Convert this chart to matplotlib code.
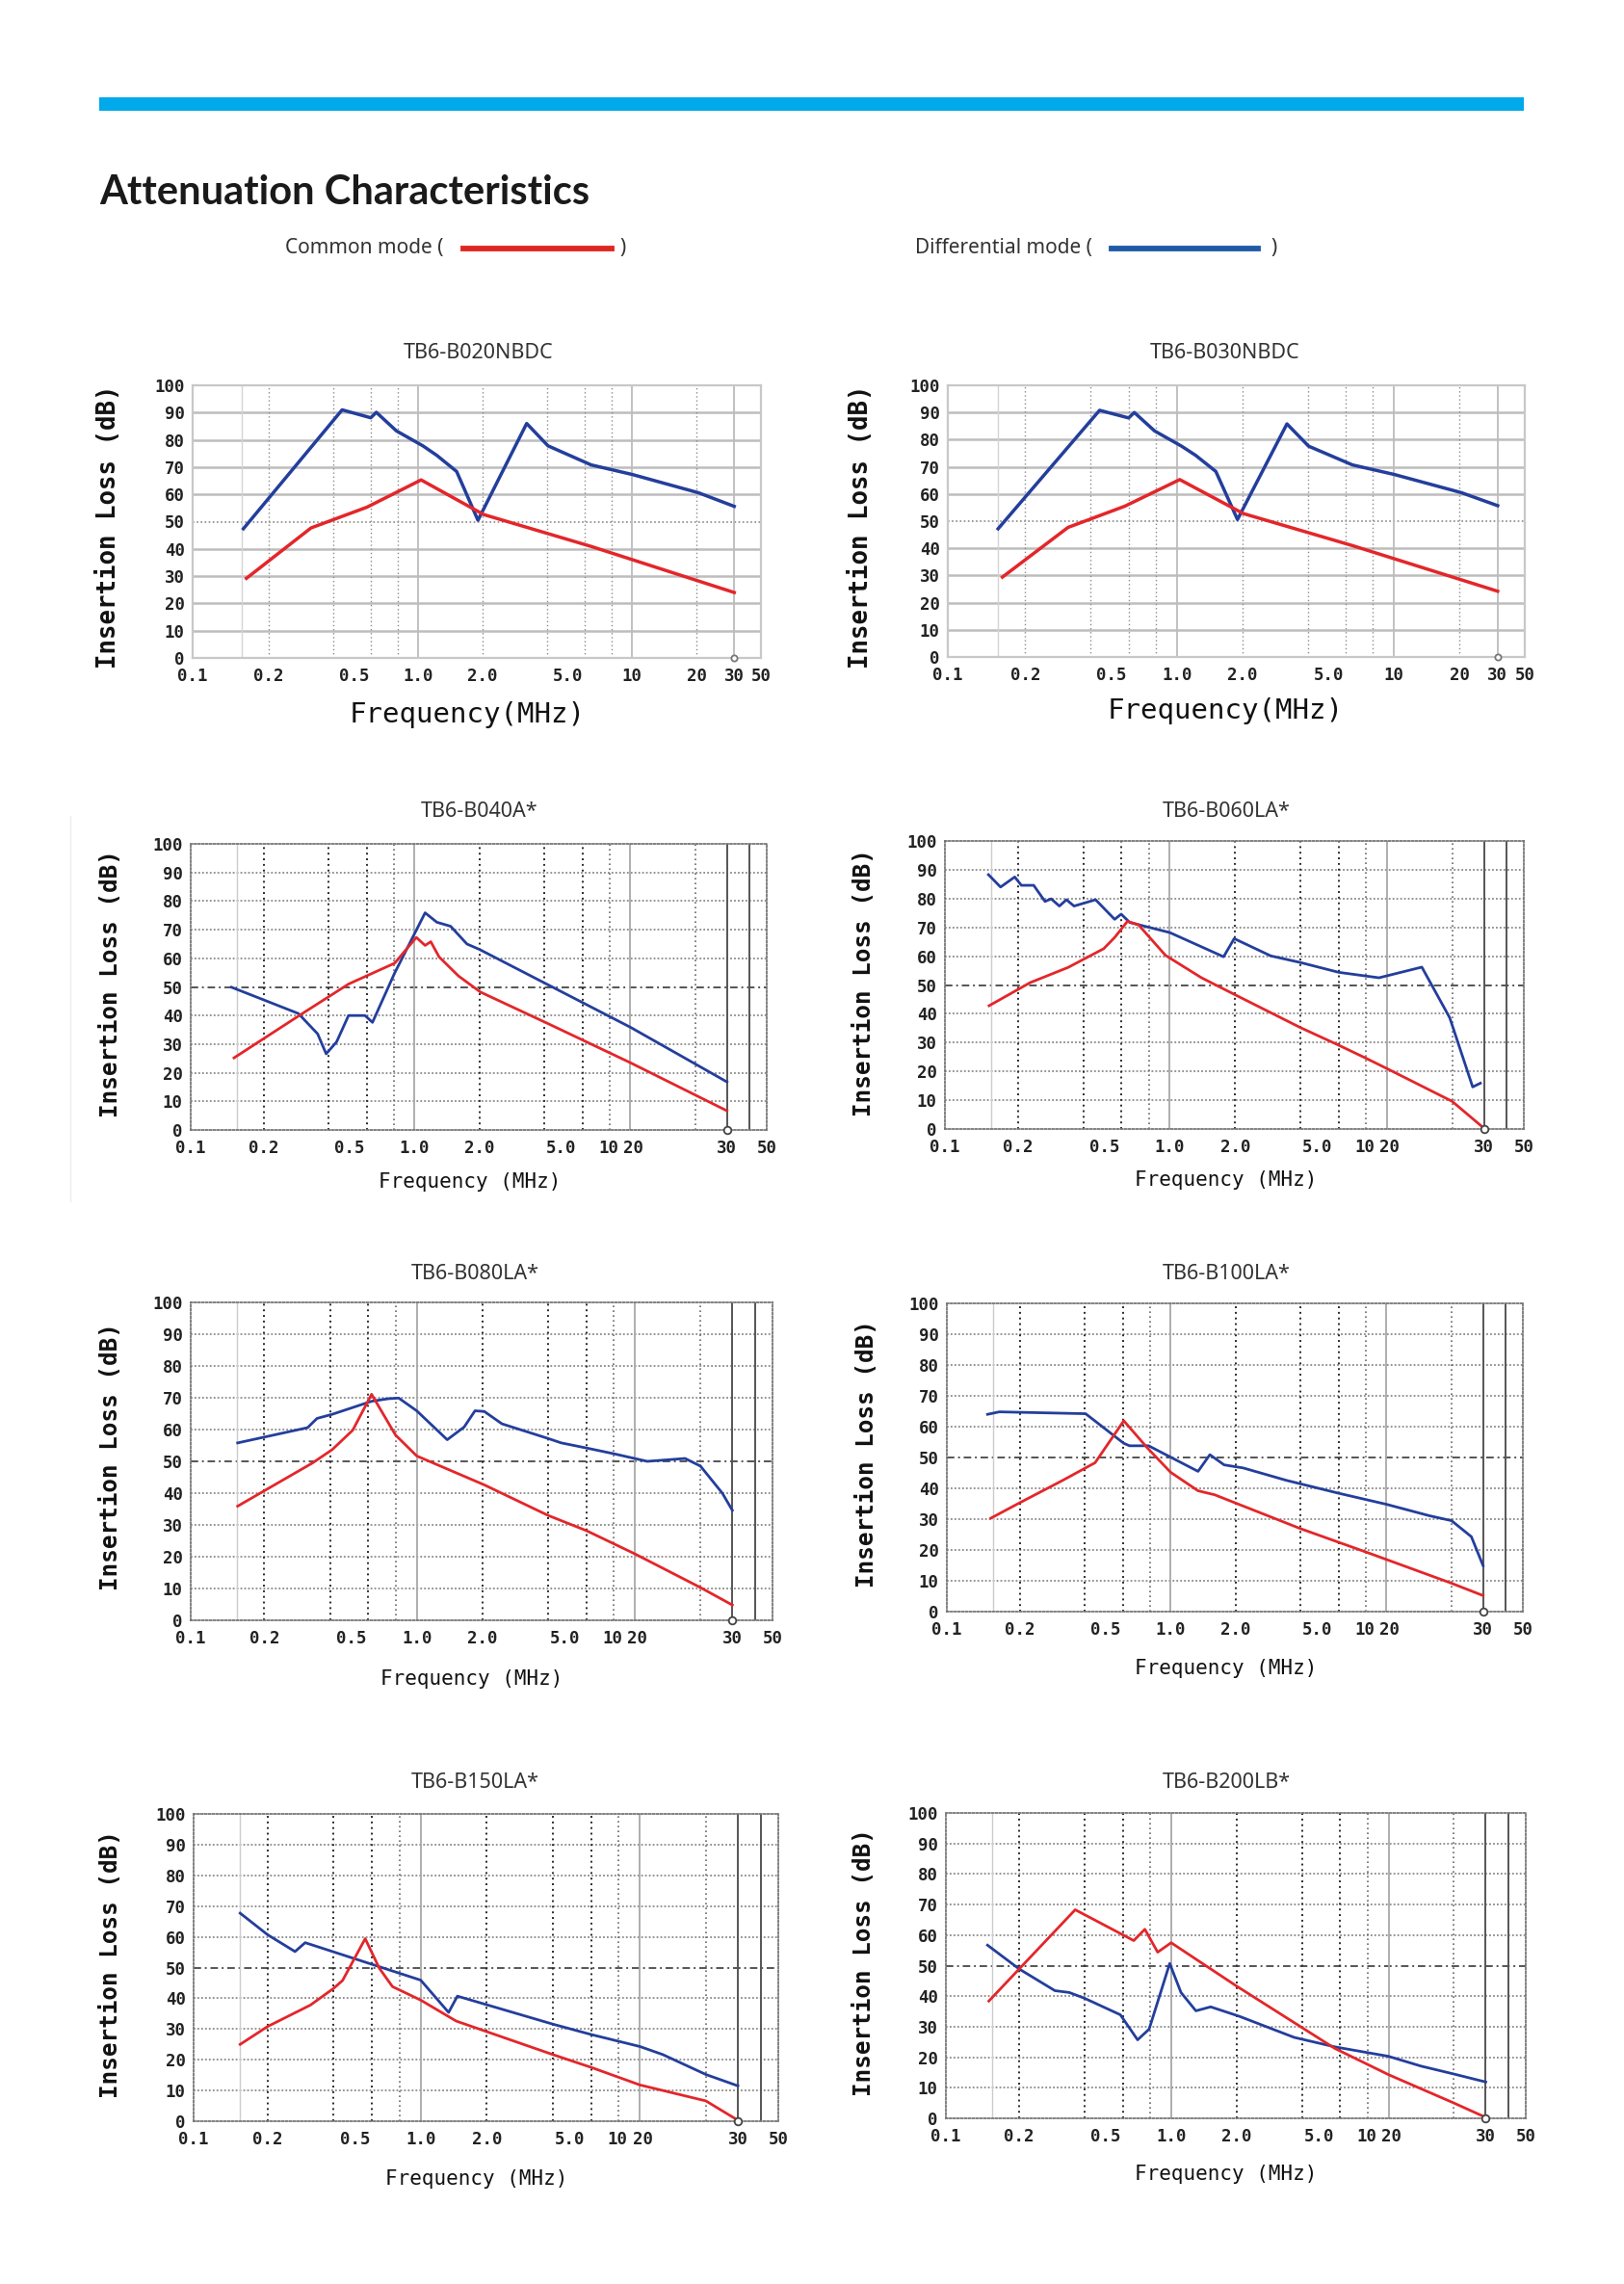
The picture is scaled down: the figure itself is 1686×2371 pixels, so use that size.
import numpy as np
import matplotlib
matplotlib.use("Agg")
import matplotlib.pyplot as plt
from matplotlib.lines import Line2D
from matplotlib.patches import Rectangle

# ---------------- data (frequency in MHz, insertion loss in dB) ----------------
b020_cm_f = [0.157, 0.315, 0.575, 1.03, 2.02, 6.43, 30.0]
b020_cm_db = [29.2, 47.7, 55.3, 65.3, 52.6, 40.9, 24.0]
b020_dm_f = [0.152, 0.44, 0.599, 0.636, 0.789, 1.05, 1.22, 1.51, 1.90, 3.21, 4.04, 6.43, 10.0, 20.4, 30.0]
b020_dm_db = [47.4, 91.0, 88.1, 90.1, 83.3, 77.8, 74.3, 68.4, 50.5, 86.0, 77.8, 70.8, 67.3, 60.6, 55.6]

b030_cm_f = [0.157, 0.315, 0.575, 1.03, 2.02, 6.43, 30.0]
b030_cm_db = [29.4, 47.7, 55.5, 65.3, 52.8, 41.0, 24.2]
b030_dm_f = [0.150, 0.44, 0.599, 0.636, 0.789, 1.05, 1.22, 1.51, 1.90, 3.21, 4.04, 6.43, 10.0, 20.4, 30.0]
b030_dm_db = [47.2, 90.8, 88.0, 90.0, 83.2, 77.6, 74.2, 68.3, 50.6, 85.8, 77.6, 70.7, 67.2, 60.5, 55.7]

b040_cm_f = [0.146, 0.29, 0.495, 0.81, 1.02, 1.12, 1.19, 1.30, 1.60, 2.02, 4.04, 10.0, 30.0]
b040_cm_db = [25.2, 39.8, 51.0, 58.3, 67.3, 64.5, 65.8, 60.5, 53.8, 48.2, 37.6, 23.5, 6.7]
b040_dm_f = [0.142, 0.29, 0.356, 0.39, 0.436, 0.495, 0.59, 0.639, 0.81, 1.12, 1.27, 1.47, 1.75, 2.0, 10.0, 30.0]
b040_dm_db = [49.9, 40.7, 33.6, 26.6, 30.8, 40.0, 40.0, 37.6, 54.9, 75.9, 72.6, 71.2, 65.0, 63.1, 35.9, 16.8]

b060_cm_f = [0.147, 0.227, 0.34, 0.496, 0.557, 0.638, 0.717, 0.955, 1.40, 2.0, 4.0, 6.0, 8.0, 10.0, 20.0, 30.0]
b060_cm_db = [42.8, 50.8, 56.1, 62.6, 66.5, 72.1, 70.9, 60.3, 52.5, 46.6, 35.2, 29.1, 24.6, 21.0, 9.6, 0.3]
b060_dm_f = [0.146, 0.166, 0.193, 0.207, 0.236, 0.266, 0.284, 0.31, 0.334, 0.362, 0.455, 0.557, 0.597,
             0.654, 1.0, 1.77, 1.98, 2.92, 4.0, 6.0, 9.2, 14.5, 19.5, 26.0, 28.7]
b060_dm_db = [88.3, 84.0, 87.5, 84.6, 84.6, 79.0, 79.9, 77.4, 79.6, 77.4, 79.6, 72.8, 74.6,
              71.7, 68.2, 59.8, 66.1, 60.1, 57.8, 54.4, 52.5, 56.2, 38.6, 14.6, 15.9]

b080_cm_f = [0.151, 0.333, 0.41, 0.509, 0.621, 0.799, 1.0, 2.04, 4.0, 6.0, 10.0, 20.0, 30.0]
b080_cm_db = [35.9, 49.5, 53.7, 59.8, 71.1, 58.3, 51.7, 42.6, 33.0, 28.2, 20.9, 10.3, 4.8]
b080_dm_f = [0.151, 0.316, 0.349, 0.41, 0.621, 0.741, 0.827, 1.0, 1.38, 1.65, 1.85, 2.04, 2.46,
             4.0, 4.6, 6.0, 8.0, 11.4, 17.0, 20.0, 26.4, 30.0]
b080_dm_db = [55.8, 60.6, 63.5, 64.8, 68.9, 69.7, 69.9, 65.9, 56.8, 60.8, 65.9, 65.7, 61.8,
              57.2, 55.8, 54.2, 52.4, 50.0, 50.9, 48.5, 40.0, 34.6]

b100_cm_f = [0.147, 0.2, 0.313, 0.447, 0.607, 0.783, 1.0, 1.34, 1.6, 4.0, 8.2, 20.0, 30.0]
b100_cm_db = [30.3, 35.3, 42.4, 48.3, 61.9, 53.0, 45.2, 39.2, 37.9, 26.9, 19.1, 9.2, 5.2]
b100_dm_f = [0.142, 0.161, 0.404, 0.607, 0.645, 0.791, 1.34, 1.52, 1.77, 2.17, 3.43, 6.0, 10.0,
             15.8, 20.0, 25.8, 30.0]
b100_dm_db = [64.0, 64.8, 64.2, 54.6, 53.8, 53.8, 45.5, 50.9, 47.6, 46.6, 42.6, 38.4, 34.8,
              31.1, 29.5, 24.3, 14.9]

b150_cm_f = [0.15, 0.2, 0.314, 0.4, 0.44, 0.558, 0.647, 0.743, 1.0, 1.45, 4.0, 6.0, 10.0, 20.0, 30.0]
b150_cm_db = [25.0, 30.8, 37.8, 43.2, 45.8, 59.4, 49.8, 43.8, 39.4, 32.6, 21.7, 17.5, 11.8, 6.6, 0.3]
b150_dm_f = [0.15, 0.2, 0.267, 0.297, 1.0, 1.34, 1.47, 4.0, 6.0, 10.0, 12.7, 20.0, 30.0]
b150_dm_db = [67.7, 60.7, 55.2, 58.1, 45.9, 35.4, 40.7, 31.6, 28.2, 24.3, 21.7, 15.2, 11.5]

b200_cm_f = [0.145, 0.362, 0.673, 0.757, 0.867, 1.0, 2.0, 5.66, 10.0, 20.0, 30.0]
b200_cm_db = [38.4, 68.3, 58.2, 61.9, 54.4, 57.5, 43.3, 22.9, 14.3, 5.0, 0.3]
b200_dm_f = [0.143, 0.2, 0.292, 0.34, 0.4, 0.584, 0.701, 0.792, 0.985, 1.11, 1.30, 1.52, 2.06,
             3.68, 5.66, 10.0, 14.1, 20.0, 30.0]
b200_dm_db = [56.7, 48.9, 41.8, 41.2, 39.3, 33.9, 25.7, 29.2, 50.7, 41.2, 35.2, 36.5, 33.4,
              26.5, 23.4, 20.3, 17.1, 14.5, 11.9]

tick_texts = ["0.1", "0.2", "0.5", "1.0", "2.0", "5.0", "10", "20", "30", "50"]
y_ticks = [0, 10, 20, 30, 40, 50, 60, 70, 80, 90, 100]
titles = ["TB6-B020NBDC", "TB6-B030NBDC", "TB6-B040A*", "TB6-B060LA*",
          "TB6-B080LA*", "TB6-B100LA*", "TB6-B150LA*", "TB6-B200LB*"]

# ---------------- layout ----------------
W, H = 1686, 2371
fig = plt.figure(figsize=(W / 100, H / 100), dpi=100)
fig.patch.set_facecolor("white")

def fx(x):
    return x / W

def fy(y):
    return 1 - y / H

RED = "#e3262a"
BLUE = "#233e9c"
MONO = ["DejaVu Sans Mono"]
SANS = ["Noto Sans", "DejaVu Sans"]
HEAD = ["Lato", "Noto Sans", "DejaVu Sans"]

# header
fig.add_artist(Rectangle((fx(103), fy(115)), fx(1582) - fx(103), fy(101) - fy(115),
                         transform=fig.transFigure, color="#00a9ea", lw=0))
fig.text(fx(103), fy(212), "Attenuation Characteristics", fontsize=30, fontweight="bold",
         family=HEAD, color="#1a1a1a", va="baseline", ha="left")
fig.text(fx(296), fy(257), "Common mode (", fontsize=15, family=SANS,
         color="#333", va="center", ha="left", fontweight="light")
fig.add_artist(Line2D([fx(481), fx(635)], [fy(258), fy(258)], color="#e0261f", lw=4.2,
                      transform=fig.transFigure))
fig.text(fx(647), fy(257), ")", fontsize=15, family=SANS, color="#333", va="center", ha="center",
         fontweight="light")
fig.text(fx(950), fy(257), "Differential mode (", fontsize=15, family=SANS,
         color="#333", va="center", ha="left", fontweight="light")
fig.add_artist(Line2D([fx(1154), fx(1306)], [fy(258), fy(258)], color="#1f5aa6", lw=4.2,
                      transform=fig.transFigure))
fig.text(fx(1323), fy(257), ")", fontsize=15, family=SANS, color="#333", va="center", ha="center",
         fontweight="light")

# faint scan edge line
fig.add_artist(Line2D([fx(73), fx(73)], [fy(847), fy(1247)], color="#ececec", lw=1.0,
                      transform=fig.transFigure))

# ---------------- scales ----------------
K = np.log10(20.0)
S = 0.83

def fwd_A(f):
    return np.log10(np.maximum(f, 1e-9))

def inv_A(p):
    return 10.0 ** p

def fwd_B(f):
    lf = np.log10(np.maximum(f, 1e-9))
    return np.where(lf <= K, lf, K + (lf - K) * S)

def inv_B(p):
    return np.where(p <= K, 10.0 ** p, 10.0 ** (K + (p - K) / S))

charts = [
    # title, kind, box(l,t,r,b), title xy, ylabel xy, xlabel xy, cm, dm
    (titles[0], "A", (200, 400, 790, 683), (497, 366), (113, 547), (485, 742), (b020_cm_f, b020_cm_db), (b020_dm_f, b020_dm_db)),
    (titles[1], "A", (984, 400, 1583, 682), (1272, 366), (894, 547), (1272, 738), (b030_cm_f, b030_cm_db), (b030_dm_f, b030_dm_db)),
    (titles[2], "B", (198, 876, 796, 1173), (498, 843), (115, 1021), (488, 1227), (b040_cm_f, b040_cm_db), (b040_dm_f, b040_dm_db)),
    (titles[3], "B", (981, 873, 1582, 1172), (1273, 843), (897, 1020), (1273, 1225), (b060_cm_f, b060_cm_db), (b060_dm_f, b060_dm_db)),
    (titles[4], "B", (198, 1352, 802, 1682), (493, 1322), (115, 1512), (490, 1743), (b080_cm_f, b080_cm_db), (b080_dm_f, b080_dm_db)),
    (titles[5], "B", (983, 1353, 1581, 1673), (1273, 1322), (900, 1509), (1273, 1732), (b100_cm_f, b100_cm_db), (b100_dm_f, b100_dm_db)),
    (titles[6], "B", (201, 1883, 808, 2202), (493, 1850), (115, 2039), (495, 2262), (b150_cm_f, b150_cm_db), (b150_dm_f, b150_dm_db)),
    (titles[7], "B", (982, 1882, 1584, 2199), (1273, 1850), (897, 2037), (1273, 2257), (b200_cm_f, b200_cm_db), (b200_dm_f, b200_dm_db)),
]

for title, kind, box, txy, yxy, xxy, cm, dm in charts:
    l, t, r, b = box
    ax = fig.add_axes([fx(l), fy(b), fx(r) - fx(l), fy(t) - fy(b)])
    if kind == "A":
        ax.set_xscale("function", functions=(fwd_A, inv_A))
        xmin, xmax = 0.088, 40.0
        tick_pos = [xmin, 0.2, 0.5, 1.0, 2.0, 5.0, 10.0, 20.0, 30.0, xmax]
        lw_data = 2.5
    else:
        ax.set_xscale("function", functions=(fwd_B, inv_B))
        xmin, xmax = 0.092, 50.0
        tick_pos = [xmin, 0.2, 0.5, 1.0, 2.0, 4.8, 7.9, 10.3, 30.0, xmax]
        lw_data = 2.0
    ax.set_xlim(xmin, xmax)
    ax.set_ylim(0, 100)

    # grid
    if kind == "A":
        for yv in y_ticks[1:-1]:
            if yv == 50:
                ax.axhline(yv, color="#8a8a8a", lw=1.2, ls=(0, (1, 1.5)), zorder=1)
            else:
                ax.axhline(yv, color="#bdbdbd", lw=1.8, zorder=1)
        ax.axvline(0.15, color="#d4d4d4", lw=1.0, zorder=1)
        for xv in [0.2, 0.4, 0.6, 0.8, 2, 4, 6, 8, 20]:
            ax.axvline(xv, color="#8c8c8c", lw=1.0, ls=(0, (1, 2)), zorder=1)
        for xv in [1, 10, 30]:
            ax.axvline(xv, color="#bcbcbc", lw=1.3, zorder=1)
        for sp in ax.spines.values():
            sp.set_color("#c8c8c8")
            sp.set_linewidth(1.6)
    else:
        for yv in y_ticks[1:-1]:
            if yv == 50:
                ax.axhline(yv, color="#555555", lw=1.4, ls=(0, (4, 2, 1, 2)), zorder=1)
            else:
                ax.axhline(yv, color="#8a8a8a", lw=1.3, ls=(0, (1, 1.2)), zorder=1)
        ax.axvline(0.15, color="#cccccc", lw=1.0, zorder=1)
        for xv in [0.2, 0.4, 0.6, 2, 4, 6]:
            ax.axvline(xv, color="#2a2a2a", lw=1.4, ls=(0, (1, 2)), zorder=1)
        for xv in [0.8, 8, 20]:
            ax.axvline(xv, color="#6a6a6a", lw=1.2, ls=(0, (1, 2)), zorder=1)
        for xv in [1, 10]:
            ax.axvline(xv, color="#a8a8a8", lw=1.3, zorder=1)
        for xv in [30, 40]:
            ax.axvline(xv, color="#555555", lw=1.4, zorder=1)
        for sp in ax.spines.values():
            sp.set_color("#777777")
            sp.set_linewidth(1.3)
            sp.set_linestyle((0, (1, 1.2)))

    ax.plot(dm[0], dm[1], color=BLUE, lw=lw_data, zorder=3, solid_joinstyle="round")
    ax.plot(cm[0], cm[1], color=RED, lw=lw_data, zorder=4, solid_joinstyle="round")
    ax.plot([30.0], [0.0], marker="o", ms=5.5 if kind == "B" else 4.5, mfc="white",
            mec="#444444" if kind == "B" else "#777777", mew=1.3, clip_on=False, zorder=6)

    ax.set_xticks(tick_pos, tick_texts)
    ax.set_yticks(y_ticks, [str(v) for v in y_ticks])
    ax.minorticks_off()
    ax.tick_params(axis="both", length=0)
    ax.tick_params(axis="y", pad=6)
    ax.tick_params(axis="x", pad=7)
    for lab in ax.get_xticklabels() + ax.get_yticklabels():
        lab.set_family(MONO)
        lab.set_fontsize(12.5)
        lab.set_fontweight("bold")
        lab.set_color("#222222")

    fig.text(fx(txy[0]), fy(txy[1]), title, fontsize=15.5, family=SANS,
             fontweight="light", color="#333333", ha="center", va="center")
    ylab_size = 18.5 if kind == "A" else 17.5
    fig.text(fx(yxy[0]), fy(yxy[1]), "Insertion Loss (dB)", rotation=90, fontsize=ylab_size,
             family=MONO, fontweight="bold", color="#111111", ha="center", va="center")
    if kind == "A":
        fig.text(fx(xxy[0]), fy(xxy[1]), "Frequency(MHz)", fontsize=21, family=MONO,
                 color="#111111", ha="center", va="center")
    else:
        fig.text(fx(xxy[0]), fy(xxy[1]), "Frequency (MHz)", fontsize=15, family=MONO,
                 color="#111111", ha="center", va="center")

fig.savefig("out.png", dpi=100, facecolor="white")
